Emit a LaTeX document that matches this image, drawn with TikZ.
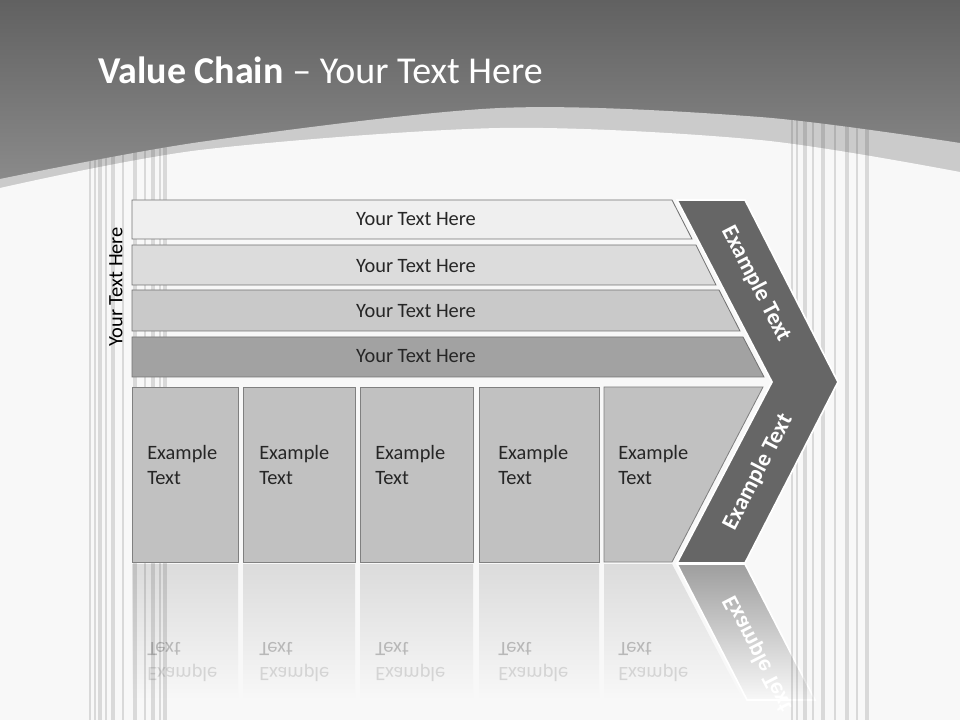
\documentclass[tikz,border=0pt]{standalone}
\usepackage{fontspec}
\setmainfont{Carlito}
\usepackage{graphicx}
\definecolor{topdark}{HTML}{616161}
\definecolor{toplight}{HTML}{8F8F8F}
\definecolor{arcband}{HTML}{CBCBCB}
\definecolor{slidebg}{HTML}{F8F8F8}
\definecolor{rowA}{HTML}{EFEFEF}
\definecolor{rowB}{HTML}{DCDCDC}
\definecolor{rowC}{HTML}{C9C9C9}
\definecolor{rowD}{HTML}{A2A2A2}
\definecolor{cellfill}{HTML}{C1C1C1}
\definecolor{chevfill}{HTML}{666666}
\definecolor{rowtext}{HTML}{262626}
\tikzset{
  rowbar/.style={draw=black!55, line width=0.6pt},
  cellbox/.style={fill=cellfill, draw=black!50, line width=0.6pt},
  rowlabel/.style={font=\fontsize{14.5}{17}\selectfont, text=rowtext},
  celllabel/.style={font=\fontsize{14.5}{18}\selectfont, text=rowtext, align=left, anchor=base west, inner sep=0pt},
  chevlabel/.style={font=\fontsize{16.5}{19}\selectfont\bfseries, text=white},
  ghost/.style={font=\fontsize{14.5}{18}\selectfont, anchor=base west, inner sep=0pt},
  stripe/.style={draw=black, opacity=0.12},
}
\begin{document}
\begin{tikzpicture}[x=0.025cm, y=-0.025cm]
  \useasboundingbox (0,0) rectangle (960,720);
  % Background and arc
  \fill[slidebg] (0,0) rectangle (960,720);
  \shade[top color=topdark, bottom color=toplight] (0,0) rectangle (960,200);
  \fill[arcband] plot[smooth] coordinates {(0,179) (200,142) (500,108) (760,117) (960,143)} -- (960,200) -- (0,200) -- cycle;
  \fill[slidebg] plot[smooth] coordinates {(0,188) (200,150) (500,128) (760,140) (960,172)} -- (960,720) -- (0,720) -- cycle;
  % Title
  \node[anchor=base west, inner sep=0pt, text=white, font=\fontsize{27}{32}\selectfont] (title) at (98,84) {\textbf{Value Chain} – Your Text Here};
  % Reflection
  \foreach \xa/\xb in {132/238, 243/355, 360/473, 479/599}
    \shade[top color=black!14, bottom color=slidebg] (\xa,564) rectangle (\xb,700);
  \shade[top color=black!14, bottom color=slidebg] (604,564) -- (672,564) -- (743,700) -- (604,700) -- cycle;
  \foreach \tx in {147,259,375,498,618} {
    \node[ghost, text=black!28] (gt\tx) at (\tx,642) {\scalebox{1}[-1]{Text}};
    \node[ghost, text=black!17] (ge\tx) at (\tx,667) {\scalebox{1}[-1]{Example}};
  }
  \shadedraw[top color=black!38, bottom color=slidebg, draw=white, line width=1.2pt] (677,564) -- (745,564) -- (815,700) -- (747,700) -- cycle;
  \node[chevlabel, rotate=-62.7] (ghostchev) at (758,654) {\scalebox{1}[-1]{Example Text}};
  % Stripes
  \begin{scope}
    \clip plot[smooth] coordinates {(0,179) (200,142) (500,108) (760,117) (960,143)} -- (960,720) -- (0,720) -- cycle;
    \foreach \sx/\sw in {90/2, 95/1.4, 100/2.4, 106/1.4, 113/2.8, 123/2, 135/2.8, 145/1.4, 153/2.4, 160/1.4, 165/2.8,
                         792/2, 797/1.4, 805/2.4, 813/1.4, 823/2.8, 835/2, 847/2.4, 857/1.4, 867/2.8}
      \draw[stripe, line width=\sw pt] (\sx,100) -- (\sx,720);
  \end{scope}
  % Rows
  \filldraw[rowbar, fill=rowA] (132,200) -- (672,200) -- (692,239) -- (132,239) -- cycle;
  \filldraw[rowbar, fill=rowB] (132,245) -- (696,245) -- (716,285) -- (132,285) -- cycle;
  \filldraw[rowbar, fill=rowC] (132,290) -- (719,290) -- (740,331) -- (132,331) -- cycle;
  \filldraw[rowbar, fill=rowD] (132,337) -- (743,337) -- (764,377) -- (132,377) -- cycle;
  \node[rowlabel] (rowa) at (416,219) {Your Text Here};
  \node[rowlabel] (rowb) at (416,266) {Your Text Here};
  \node[rowlabel] (rowc) at (416,311) {Your Text Here};
  \node[rowlabel] (rowd) at (416,356) {Your Text Here};
  \node[rowlabel, text=black, rotate=90] (sidelabel) at (116,287) {Your Text Here};
  % Cells
  \filldraw[cellbox] (132,387) rectangle (238,562);
  \filldraw[cellbox] (243,387) rectangle (355,562);
  \filldraw[cellbox] (360,387) rectangle (473,562);
  \filldraw[cellbox] (479,387) rectangle (599,562);
  \filldraw[cellbox] (604,387) -- (763,387) -- (672,562) -- (604,562) -- cycle;
  \node[celllabel] (cella) at (147,485) {Example\\Text};
  \node[celllabel] (cellb) at (259,485) {Example\\Text};
  \node[celllabel] (cellc) at (375,485) {Example\\Text};
  \node[celllabel] (celld) at (498,485) {Example\\Text};
  \node[celllabel] (celle) at (618,485) {Example\\Text};
  % Chevron
  \filldraw[fill=chevfill, draw=white, line width=1.2pt] (677,200) -- (745,200) -- (838,382) -- (745,563) -- (677,563) -- (772,382) -- cycle;
  \node[chevlabel, rotate=-62.7] (chevup) at (756,284) {Example Text};
  \node[chevlabel, rotate=62.7] (chevlow) at (758,472) {Example Text};
\end{tikzpicture}
\end{document}
